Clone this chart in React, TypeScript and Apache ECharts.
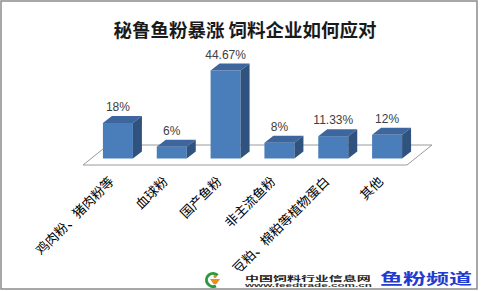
import React, { useEffect, useRef } from "react";
import * as echarts from "echarts";

const title = "秘鲁鱼粉暴涨 饲料企业如何应对";
const categories = ["鸡肉粉、猪肉粉等", "血球粉", "国产鱼粉", "非主流鱼粉", "豆粕、棉粕等植物蛋白", "其他"];
const values = [18, 6, 44.67, 8, 11.33, 12];
const siteName = "中国饲料行业信息网";
const siteUrl = "www.feedtrade.com.cn";
const channel = "鱼粉频道";

export default function App() {
  const ref = useRef<HTMLDivElement>(null);
  useEffect(() => {
    if (!ref.current) return;
    const chart = echarts.init(ref.current, null, { renderer: "svg" });
    const shift = 7;
    const halfW = 15;
    const dx = 9;
    const dy = -7;
    chart.setOption({
      animation: false,
      backgroundColor: "#ffffff",
      title: {
        text: title,
        left: 240,
        top: 15,
        textAlign: "center",
        textStyle: {
          fontFamily: "Noto Sans CJK SC",
          fontSize: 18.5,
          fontWeight: "bold",
          color: "#1a1a1a",
        },
      },
      grid: { left: 84, width: 323, top: 60, height: 98.5 },
      xAxis: {
        type: "category",
        data: categories,
        axisLine: { show: false },
        axisTick: { show: false },
        splitLine: { show: false },
        axisLabel: {
          interval: 0,
          rotate: 45,
          margin: 20,
          fontSize: 13,
          color: "#000",
          fontFamily: "Noto Sans CJK SC",
        },
      },
      yAxis: { type: "value", min: 0, max: 50, show: false },
      series: [
        {
          type: "custom",
          z: 1,
          data: [[0, 0]],
          renderItem: (params: any) => {
            const cs = params.coordSys;
            const b = cs.y + cs.height;
            return {
              type: "polygon",
              shape: {
                points: [
                  [cs.x - 1, b + 6.5],
                  [cs.x + 24, b - 13.5],
                  [cs.x + cs.width + 25, b - 13.5],
                  [cs.x + cs.width, b + 6.5],
                ],
              },
              style: { fill: "#ffffff", stroke: "#9a9a9a", lineWidth: 1 },
            };
          },
        },
        {
          type: "custom",
          z: 2,
          data: values.map((v, i) => [i, v]),
          encode: { x: 0, y: 1 },
          renderItem: (params: any, api: any) => {
            const bot = api.coord([api.value(0), 0]);
            const top = api.coord([api.value(0), api.value(1)]);
            const cx = bot[0] + shift;
            const l = cx - halfW;
            const r = cx + halfW;
            const t = top[1];
            const b = bot[1];
            return {
              type: "group",
              children: [
                {
                  type: "rect",
                  shape: { x: l, y: t, width: r - l, height: b - t },
                  style: { fill: "#4a7ebb" },
                },
                {
                  type: "polygon",
                  shape: { points: [[l, t], [r, t], [r + dx, t + dy], [l + dx, t + dy]] },
                  style: { fill: "#3c669d" },
                },
                {
                  type: "polygon",
                  shape: { points: [[r, t], [r + dx, t + dy], [r + dx, b + dy], [r, b]] },
                  style: { fill: "#30527f" },
                },
                {
                  type: "text",
                  style: {
                    text: api.value(1) + "%",
                    x: cx,
                    y: t + dy - 3,
                    align: "center",
                    verticalAlign: "bottom",
                    fontSize: 12,
                    fontFamily: "Liberation Sans",
                    fill: "#404040",
                  },
                },
              ],
            };
          },
        },
      ],
      graphic: [
        {
          type: "rect",
          z: 100,
          shape: { x: 203, y: 271, width: 272, height: 17 },
          style: { fill: "#ffffff" },
        },
        {
          type: "arc",
          z: 101,
          shape: { cx: 213, cy: 280, r: 6.5, startAngle: Math.PI * 0.35, endAngle: Math.PI * 1.75 },
          style: { stroke: "#2b9a3c", lineWidth: 3, fill: "none" },
        },
        {
          type: "circle",
          z: 101,
          shape: { cx: 215, cy: 276.5, r: 1.6 },
          style: { fill: "#f08a1c" },
        },
        {
          type: "polygon",
          z: 101,
          shape: { points: [[210, 279], [220, 279], [216.5, 284], [213.5, 284]] },
          style: { fill: "#f08a1c" },
        },
        {
          type: "text",
          z: 101,
          x: 245,
          y: 277.5,
          scaleY: 0.5,
          style: {
            text: siteName,
            x: 0,
            y: 0,
            verticalAlign: "middle",
            font: "bold 14px 'Noto Sans CJK SC'",
            fill: "#222",
          },
        },
        {
          type: "text",
          z: 101,
          x: 245,
          y: 285,
          scaleY: 0.45,
          style: {
            text: siteUrl,
            x: 0,
            y: 0,
            verticalAlign: "middle",
            font: "bold 11.7px 'Liberation Sans'",
            fill: "#333",
          },
        },
        {
          type: "text",
          z: 101,
          x: 380,
          y: 278,
          scaleY: 0.64,
          style: {
            text: channel,
            x: 0,
            y: 0,
            verticalAlign: "middle",
            font: "bold 23px 'Noto Sans CJK SC'",
            fill: "#1f3bd0",
          },
        },
        {
          type: "rect",
          z: 102,
          shape: { x: 1, y: 1, width: 476, height: 288 },
          style: { fill: "none", stroke: "#8c8c8c", lineWidth: 1.5 },
        },
      ],
    });
    return () => chart.dispose();
  }, []);
  return (
    <div
      ref={ref}
      style={{ position: "absolute", left: 0, top: 0, width: 483, height: 291 }}
    />
  );
}
